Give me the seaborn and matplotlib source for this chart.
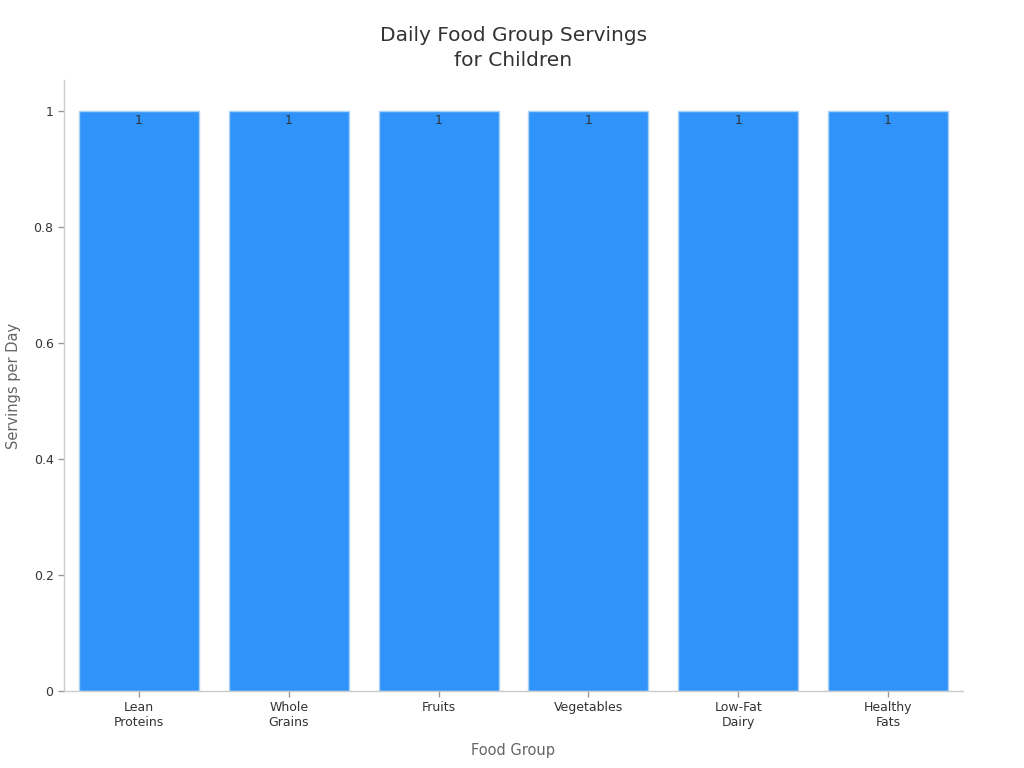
import matplotlib
matplotlib.use('Agg')
import matplotlib.pyplot as plt
import seaborn as sns
import pandas as pd

# Chart data
food_groups = ['Lean\nProteins', 'Whole\nGrains', 'Fruits', 'Vegetables', 'Low-Fat\nDairy', 'Healthy\nFats']
servings = [1, 1, 1, 1, 1, 1]

df = pd.DataFrame({'Food Group': food_groups, 'Servings per Day': servings})

sns.set_style('white')
plt.rcParams['font.family'] = ['DejaVu Sans']

fig = plt.figure(figsize=(10.24, 7.68), dpi=100)
ax = fig.add_axes([0.0625, 0.1003, 0.8779, 0.7955])

sns.barplot(data=df, x='Food Group', y='Servings per Day', color='#2F93F9',
            edgecolor='#A9D1F7', linewidth=1, width=0.8, saturation=1, ax=ax)

# Value labels just inside the top of each bar
for container in ax.containers:
    ax.bar_label(container, labels=[str(v) for v in servings], padding=-12,
                 fontsize=9, color='#333333')

ax.set_xlim(-0.5, 5.5)
ax.set_ylim(0, 1.053)
ax.set_yticks([0, 0.2, 0.4, 0.6, 0.8, 1.0])
ax.set_yticklabels(['0', '0.2', '0.4', '0.6', '0.8', '1'])

ax.set_title('Daily Food Group Servings\nfor Children', fontsize=14.5, color='#333333',
             pad=10, linespacing=1.4)
ax.set_xlabel('Food Group', fontsize=10.5, color='#666666', labelpad=10)
ax.set_ylabel('Servings per Day', fontsize=10.5, color='#666666', labelpad=9)

ax.tick_params(axis='both', bottom=True, left=True, labelsize=9,
               labelcolor='#333333', color='#999999', length=4, width=1)

sns.despine(ax=ax)
for side in ['left', 'bottom']:
    ax.spines[side].set_color('#CCCCCC')
    ax.spines[side].set_linewidth(1)

plt.savefig('out.png', dpi=100)
plt.close()
